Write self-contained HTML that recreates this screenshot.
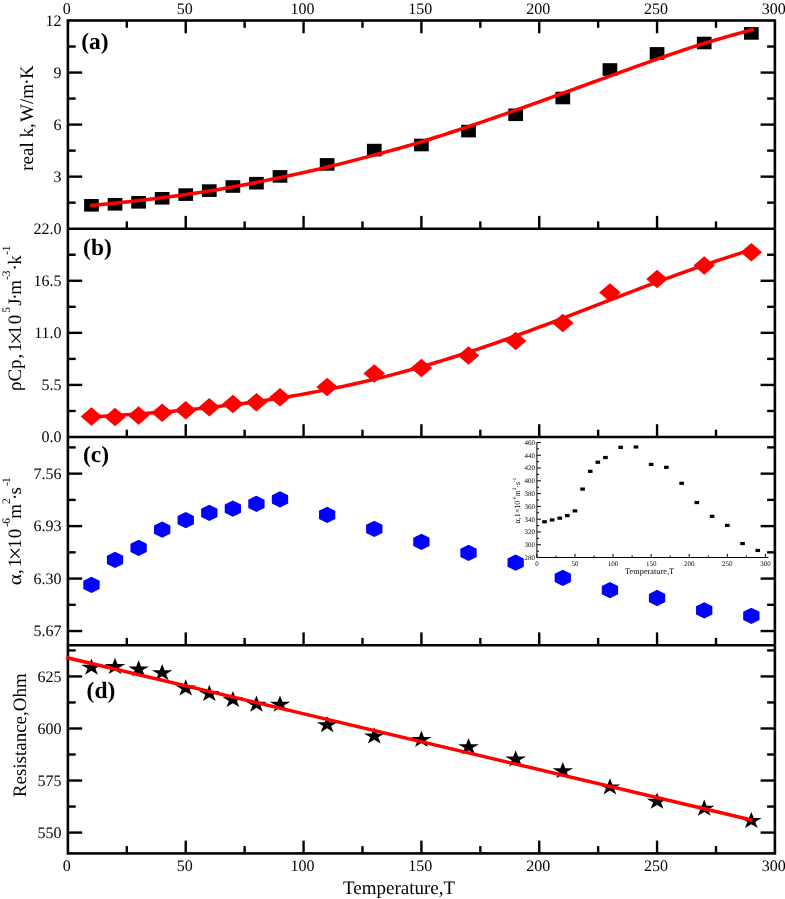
<!DOCTYPE html>
<html lang="en">
<head>
<meta charset="utf-8">
<title>Temperature dependence of k, rho*Cp, alpha and resistance</title>
<style>
html,body{margin:0;padding:0;background:#fff;}
body{width:785px;height:899px;overflow:hidden;}
svg{display:block;opacity:0.999;will-change:transform;}
text{text-rendering:geometricPrecision;}
</style>
</head>
<body>
<svg width="785" height="899" viewBox="0 0 785 899">
<rect x="0" y="0" width="785" height="899" fill="#fff"/>
<g stroke="#000" stroke-width="2.6" fill="none" stroke-linecap="butt">
<rect x="67.9" y="20.5" width="707" height="832.9"/>
<line x1="67.9" y1="228.7" x2="774.9" y2="228.7"/>
<line x1="67.9" y1="437" x2="774.9" y2="437"/>
<line x1="67.9" y1="645.2" x2="774.9" y2="645.2"/>
</g>
<g stroke="#000" stroke-width="2.4" fill="none">
<line x1="126.82" y1="20.5" x2="126.82" y2="27.8"/>
<line x1="126.82" y1="228.7" x2="126.82" y2="221.4"/>
<line x1="126.82" y1="437" x2="126.82" y2="429.7"/>
<line x1="126.82" y1="645.2" x2="126.82" y2="637.9"/>
<line x1="126.82" y1="853.4" x2="126.82" y2="846.1"/>
<line x1="185.73" y1="20.5" x2="185.73" y2="33.3"/>
<line x1="185.73" y1="228.7" x2="185.73" y2="215.9"/>
<line x1="185.73" y1="437" x2="185.73" y2="424.2"/>
<line x1="185.73" y1="645.2" x2="185.73" y2="632.4"/>
<line x1="185.73" y1="853.4" x2="185.73" y2="840.6"/>
<line x1="244.65" y1="20.5" x2="244.65" y2="27.8"/>
<line x1="244.65" y1="228.7" x2="244.65" y2="221.4"/>
<line x1="244.65" y1="437" x2="244.65" y2="429.7"/>
<line x1="244.65" y1="645.2" x2="244.65" y2="637.9"/>
<line x1="244.65" y1="853.4" x2="244.65" y2="846.1"/>
<line x1="303.57" y1="20.5" x2="303.57" y2="33.3"/>
<line x1="303.57" y1="228.7" x2="303.57" y2="215.9"/>
<line x1="303.57" y1="437" x2="303.57" y2="424.2"/>
<line x1="303.57" y1="645.2" x2="303.57" y2="632.4"/>
<line x1="303.57" y1="853.4" x2="303.57" y2="840.6"/>
<line x1="362.48" y1="20.5" x2="362.48" y2="27.8"/>
<line x1="362.48" y1="228.7" x2="362.48" y2="221.4"/>
<line x1="362.48" y1="437" x2="362.48" y2="429.7"/>
<line x1="362.48" y1="645.2" x2="362.48" y2="637.9"/>
<line x1="362.48" y1="853.4" x2="362.48" y2="846.1"/>
<line x1="421.4" y1="20.5" x2="421.4" y2="33.3"/>
<line x1="421.4" y1="228.7" x2="421.4" y2="215.9"/>
<line x1="421.4" y1="437" x2="421.4" y2="424.2"/>
<line x1="421.4" y1="645.2" x2="421.4" y2="632.4"/>
<line x1="421.4" y1="853.4" x2="421.4" y2="840.6"/>
<line x1="480.32" y1="20.5" x2="480.32" y2="27.8"/>
<line x1="480.32" y1="228.7" x2="480.32" y2="221.4"/>
<line x1="480.32" y1="437" x2="480.32" y2="429.7"/>
<line x1="480.32" y1="645.2" x2="480.32" y2="637.9"/>
<line x1="480.32" y1="853.4" x2="480.32" y2="846.1"/>
<line x1="539.23" y1="20.5" x2="539.23" y2="33.3"/>
<line x1="539.23" y1="228.7" x2="539.23" y2="215.9"/>
<line x1="539.23" y1="437" x2="539.23" y2="424.2"/>
<line x1="539.23" y1="645.2" x2="539.23" y2="632.4"/>
<line x1="539.23" y1="853.4" x2="539.23" y2="840.6"/>
<line x1="598.15" y1="20.5" x2="598.15" y2="27.8"/>
<line x1="598.15" y1="228.7" x2="598.15" y2="221.4"/>
<line x1="598.15" y1="437" x2="598.15" y2="429.7"/>
<line x1="598.15" y1="645.2" x2="598.15" y2="637.9"/>
<line x1="598.15" y1="853.4" x2="598.15" y2="846.1"/>
<line x1="657.07" y1="20.5" x2="657.07" y2="33.3"/>
<line x1="657.07" y1="228.7" x2="657.07" y2="215.9"/>
<line x1="657.07" y1="437" x2="657.07" y2="424.2"/>
<line x1="657.07" y1="645.2" x2="657.07" y2="632.4"/>
<line x1="657.07" y1="853.4" x2="657.07" y2="840.6"/>
<line x1="715.98" y1="20.5" x2="715.98" y2="27.8"/>
<line x1="715.98" y1="228.7" x2="715.98" y2="221.4"/>
<line x1="715.98" y1="437" x2="715.98" y2="429.7"/>
<line x1="715.98" y1="645.2" x2="715.98" y2="637.9"/>
<line x1="715.98" y1="853.4" x2="715.98" y2="846.1"/>
<line x1="67.9" y1="46.53" x2="75.7" y2="46.53"/>
<line x1="774.9" y1="46.53" x2="767.1" y2="46.53"/>
<line x1="67.9" y1="72.55" x2="82.2" y2="72.55"/>
<line x1="774.9" y1="72.55" x2="760.6" y2="72.55"/>
<line x1="67.9" y1="98.57" x2="75.7" y2="98.57"/>
<line x1="774.9" y1="98.57" x2="767.1" y2="98.57"/>
<line x1="67.9" y1="124.6" x2="82.2" y2="124.6"/>
<line x1="774.9" y1="124.6" x2="760.6" y2="124.6"/>
<line x1="67.9" y1="150.62" x2="75.7" y2="150.62"/>
<line x1="774.9" y1="150.62" x2="767.1" y2="150.62"/>
<line x1="67.9" y1="176.65" x2="82.2" y2="176.65"/>
<line x1="774.9" y1="176.65" x2="760.6" y2="176.65"/>
<line x1="67.9" y1="202.67" x2="75.7" y2="202.67"/>
<line x1="774.9" y1="202.67" x2="767.1" y2="202.67"/>
<line x1="67.9" y1="254.74" x2="75.7" y2="254.74"/>
<line x1="774.9" y1="254.74" x2="767.1" y2="254.74"/>
<line x1="67.9" y1="280.77" x2="82.2" y2="280.77"/>
<line x1="774.9" y1="280.77" x2="760.6" y2="280.77"/>
<line x1="67.9" y1="306.81" x2="75.7" y2="306.81"/>
<line x1="774.9" y1="306.81" x2="767.1" y2="306.81"/>
<line x1="67.9" y1="332.85" x2="82.2" y2="332.85"/>
<line x1="774.9" y1="332.85" x2="760.6" y2="332.85"/>
<line x1="67.9" y1="358.89" x2="75.7" y2="358.89"/>
<line x1="774.9" y1="358.89" x2="767.1" y2="358.89"/>
<line x1="67.9" y1="384.93" x2="82.2" y2="384.93"/>
<line x1="774.9" y1="384.93" x2="760.6" y2="384.93"/>
<line x1="67.9" y1="410.96" x2="75.7" y2="410.96"/>
<line x1="774.9" y1="410.96" x2="767.1" y2="410.96"/>
<line x1="67.9" y1="447.41" x2="75.7" y2="447.41"/>
<line x1="774.9" y1="447.41" x2="767.1" y2="447.41"/>
<line x1="67.9" y1="473.64" x2="82.2" y2="473.64"/>
<line x1="774.9" y1="473.64" x2="760.6" y2="473.64"/>
<line x1="67.9" y1="499.88" x2="75.7" y2="499.88"/>
<line x1="774.9" y1="499.88" x2="767.1" y2="499.88"/>
<line x1="67.9" y1="526.11" x2="82.2" y2="526.11"/>
<line x1="774.9" y1="526.11" x2="760.6" y2="526.11"/>
<line x1="67.9" y1="552.34" x2="75.7" y2="552.34"/>
<line x1="774.9" y1="552.34" x2="767.1" y2="552.34"/>
<line x1="67.9" y1="578.58" x2="82.2" y2="578.58"/>
<line x1="774.9" y1="578.58" x2="760.6" y2="578.58"/>
<line x1="67.9" y1="604.81" x2="75.7" y2="604.81"/>
<line x1="774.9" y1="604.81" x2="767.1" y2="604.81"/>
<line x1="67.9" y1="631.04" x2="82.2" y2="631.04"/>
<line x1="774.9" y1="631.04" x2="760.6" y2="631.04"/>
<line x1="67.9" y1="650.41" x2="75.7" y2="650.41"/>
<line x1="774.9" y1="650.41" x2="767.1" y2="650.41"/>
<line x1="67.9" y1="676.43" x2="82.2" y2="676.43"/>
<line x1="774.9" y1="676.43" x2="760.6" y2="676.43"/>
<line x1="67.9" y1="702.46" x2="75.7" y2="702.46"/>
<line x1="774.9" y1="702.46" x2="767.1" y2="702.46"/>
<line x1="67.9" y1="728.48" x2="82.2" y2="728.48"/>
<line x1="774.9" y1="728.48" x2="760.6" y2="728.48"/>
<line x1="67.9" y1="754.5" x2="75.7" y2="754.5"/>
<line x1="774.9" y1="754.5" x2="767.1" y2="754.5"/>
<line x1="67.9" y1="780.53" x2="82.2" y2="780.53"/>
<line x1="774.9" y1="780.53" x2="760.6" y2="780.53"/>
<line x1="67.9" y1="806.55" x2="75.7" y2="806.55"/>
<line x1="774.9" y1="806.55" x2="767.1" y2="806.55"/>
<line x1="67.9" y1="832.58" x2="82.2" y2="832.58"/>
<line x1="774.9" y1="832.58" x2="760.6" y2="832.58"/>
</g>
<g font-family='"Liberation Serif","Times New Roman",serif' font-size="16.0" fill="#000">
<text x="61.6" y="25.8" text-anchor="end">12</text>
<text x="61.6" y="77.85" text-anchor="end">9</text>
<text x="61.6" y="129.9" text-anchor="end">6</text>
<text x="61.6" y="181.95" text-anchor="end">3</text>
<text x="61.6" y="234" text-anchor="end">22.0</text>
<text x="61.6" y="286.07" text-anchor="end">16.5</text>
<text x="61.6" y="338.15" text-anchor="end">11.0</text>
<text x="61.6" y="390.23" text-anchor="end">5.5</text>
<text x="61.6" y="442.3" text-anchor="end">0.0</text>
<text x="61.6" y="478.94" text-anchor="end">7.56</text>
<text x="61.6" y="531.41" text-anchor="end">6.93</text>
<text x="61.6" y="583.88" text-anchor="end">6.30</text>
<text x="61.6" y="636.34" text-anchor="end">5.67</text>
<text x="61.6" y="681.73" text-anchor="end">625</text>
<text x="61.6" y="733.78" text-anchor="end">600</text>
<text x="61.6" y="785.83" text-anchor="end">575</text>
<text x="61.6" y="837.88" text-anchor="end">550</text>
<text x="66.8" y="13.5" text-anchor="middle">0</text>
<text x="66.8" y="871.4" text-anchor="middle">0</text>
<text x="184.63" y="13.5" text-anchor="middle">50</text>
<text x="184.63" y="871.4" text-anchor="middle">50</text>
<text x="302.47" y="13.5" text-anchor="middle">100</text>
<text x="302.47" y="871.4" text-anchor="middle">100</text>
<text x="420.3" y="13.5" text-anchor="middle">150</text>
<text x="420.3" y="871.4" text-anchor="middle">150</text>
<text x="538.13" y="13.5" text-anchor="middle">200</text>
<text x="538.13" y="871.4" text-anchor="middle">200</text>
<text x="655.97" y="13.5" text-anchor="middle">250</text>
<text x="655.97" y="871.4" text-anchor="middle">250</text>
<text x="773.8" y="13.5" text-anchor="middle">300</text>
<text x="773.8" y="871.4" text-anchor="middle">300</text>
</g>
<g font-family='"Liberation Serif","Times New Roman",serif' font-size="19" fill="#000">
<text x="399" y="893.6" text-anchor="middle">Temperature,T</text>
<text transform="translate(33 118) rotate(-90)" text-anchor="middle">real k,<tspan dx="1.3">W/m</tspan><tspan dx="-0.7">·</tspan><tspan dx="-0.7">K</tspan></text>
<text transform="translate(21 391.1) rotate(-90)">ρCp<tspan dx="0.9">,</tspan><tspan dx="1.8">1</tspan><tspan font-size="24" dy="2.5" dx="-2.6">×</tspan><tspan dy="-2.5" dx="-3.3">1</tspan><tspan dx="1.0">0</tspan><tspan dy="-11.3" dx="2.2" font-size="11.5">5</tspan><tspan dy="11.3" dx="1.2">J</tspan><tspan dx="-1.4">·</tspan><tspan dx="-1.4">m</tspan><tspan dy="-11.3" font-size="11.5">-3</tspan><tspan dy="11.3">·</tspan><tspan dx="-0.8">k</tspan><tspan dy="-11.3" dx="0.3" font-size="11.5">-1</tspan></text>
<text transform="translate(20.7 585.2) rotate(-90)"><tspan textLength="11.2" lengthAdjust="spacingAndGlyphs">α</tspan><tspan dx="0.1">,</tspan><tspan dx="1.8">1</tspan><tspan font-size="24" dy="2.5" dx="-2.5">×</tspan><tspan dy="-2.5" dx="-1.7">1</tspan><tspan dx="0.8">0</tspan><tspan dy="-10.7" dx="1.6" font-size="11.5">-</tspan><tspan dx="-0.6" font-size="11.5">6</tspan><tspan dy="10.7" dx="-0.6">m</tspan><tspan dy="-10.7" font-size="11.5">2</tspan><tspan dy="10.7" dx="-1.8">·</tspan><tspan dx="-0.8">s</tspan><tspan dy="-10.7" dx="1.0" font-size="11.5">-</tspan><tspan dx="-0.8" font-size="11.5">1</tspan></text>
<text transform="translate(26.2 735.2) rotate(-90)" text-anchor="middle">Resistance,Ohm</text>
</g>
<g font-family='"Liberation Serif","Times New Roman",serif' font-size="23.5" font-weight="bold" fill="#000">
<text x="81.3" y="49.1">(a)</text>
<text x="83.1" y="254.5">(b)</text>
<text x="82.9" y="461.6">(c)</text>
<text x="86.6" y="697.7">(d)</text>
</g>
<g stroke="#000" stroke-width="1" fill="none">
<polyline points="536.9,442.5 536.9,557.5 768.4,557.5"/>
<line x1="536.9" y1="557.5" x2="540.9" y2="557.5"/>
<line x1="536.9" y1="551.11" x2="539.1" y2="551.11"/>
<line x1="536.9" y1="544.72" x2="540.9" y2="544.72"/>
<line x1="536.9" y1="538.33" x2="539.1" y2="538.33"/>
<line x1="536.9" y1="531.94" x2="540.9" y2="531.94"/>
<line x1="536.9" y1="525.56" x2="539.1" y2="525.56"/>
<line x1="536.9" y1="519.17" x2="540.9" y2="519.17"/>
<line x1="536.9" y1="512.78" x2="539.1" y2="512.78"/>
<line x1="536.9" y1="506.39" x2="540.9" y2="506.39"/>
<line x1="536.9" y1="500" x2="539.1" y2="500"/>
<line x1="536.9" y1="493.61" x2="540.9" y2="493.61"/>
<line x1="536.9" y1="487.22" x2="539.1" y2="487.22"/>
<line x1="536.9" y1="480.83" x2="540.9" y2="480.83"/>
<line x1="536.9" y1="474.44" x2="539.1" y2="474.44"/>
<line x1="536.9" y1="468.06" x2="540.9" y2="468.06"/>
<line x1="536.9" y1="461.67" x2="539.1" y2="461.67"/>
<line x1="536.9" y1="455.28" x2="540.9" y2="455.28"/>
<line x1="536.9" y1="448.89" x2="539.1" y2="448.89"/>
<line x1="536.9" y1="442.5" x2="540.9" y2="442.5"/>
<line x1="536.9" y1="557.5" x2="536.9" y2="553.9"/>
<line x1="555.94" y1="557.5" x2="555.94" y2="555.5"/>
<line x1="574.98" y1="557.5" x2="574.98" y2="553.9"/>
<line x1="594.02" y1="557.5" x2="594.02" y2="555.5"/>
<line x1="613.07" y1="557.5" x2="613.07" y2="553.9"/>
<line x1="632.11" y1="557.5" x2="632.11" y2="555.5"/>
<line x1="651.15" y1="557.5" x2="651.15" y2="553.9"/>
<line x1="670.19" y1="557.5" x2="670.19" y2="555.5"/>
<line x1="689.23" y1="557.5" x2="689.23" y2="553.9"/>
<line x1="708.27" y1="557.5" x2="708.27" y2="555.5"/>
<line x1="727.32" y1="557.5" x2="727.32" y2="553.9"/>
<line x1="746.36" y1="557.5" x2="746.36" y2="555.5"/>
<line x1="765.4" y1="557.5" x2="765.4" y2="553.9"/>
</g>
<g font-family='"Liberation Serif","Times New Roman",serif' font-size="7" fill="#000">
<text x="535" y="559.9" text-anchor="end">280</text>
<text x="535" y="547.12" text-anchor="end">300</text>
<text x="535" y="534.34" text-anchor="end">320</text>
<text x="535" y="521.57" text-anchor="end">340</text>
<text x="535" y="508.79" text-anchor="end">360</text>
<text x="535" y="496.01" text-anchor="end">380</text>
<text x="535" y="483.23" text-anchor="end">400</text>
<text x="535" y="470.46" text-anchor="end">420</text>
<text x="535" y="457.68" text-anchor="end">440</text>
<text x="535" y="444.9" text-anchor="end">460</text>
<text x="536.9" y="565.6" text-anchor="middle">0</text>
<text x="574.98" y="565.6" text-anchor="middle">50</text>
<text x="613.07" y="565.6" text-anchor="middle">100</text>
<text x="651.15" y="565.6" text-anchor="middle">150</text>
<text x="689.23" y="565.6" text-anchor="middle">200</text>
<text x="727.32" y="565.6" text-anchor="middle">250</text>
<text x="765.4" y="565.6" text-anchor="middle">300</text>
<text x="649.6" y="573.6" text-anchor="middle" font-size="8.3">Temperature,T</text>
<text transform="translate(519.8 500.6) rotate(-90)" text-anchor="middle" font-size="8">α,1×10<tspan dy="-4" font-size="5">-6</tspan><tspan dy="4">m</tspan><tspan dy="-4" font-size="5">2</tspan><tspan dy="4">·s</tspan><tspan dy="-4" font-size="5">-1</tspan></text>
</g>
<g fill="#000">
<rect x="542.22" y="520.18" width="4.6" height="3.2"/>
<rect x="549.83" y="518.37" width="4.6" height="3.2"/>
<rect x="557.45" y="516.55" width="4.6" height="3.2"/>
<rect x="565.07" y="514.01" width="4.6" height="3.2"/>
<rect x="572.68" y="509.29" width="4.6" height="3.2"/>
<rect x="580.3" y="487.5" width="4.6" height="3.2"/>
<rect x="587.92" y="469.71" width="4.6" height="3.2"/>
<rect x="595.53" y="460.63" width="4.6" height="3.2"/>
<rect x="603.15" y="455.91" width="4.6" height="3.2"/>
<rect x="618.38" y="445.75" width="4.6" height="3.2"/>
<rect x="633.62" y="445.38" width="4.6" height="3.2"/>
<rect x="648.85" y="462.81" width="4.6" height="3.2"/>
<rect x="664.08" y="465.72" width="4.6" height="3.2"/>
<rect x="679.32" y="481.69" width="4.6" height="3.2"/>
<rect x="694.55" y="500.94" width="4.6" height="3.2"/>
<rect x="709.78" y="514.74" width="4.6" height="3.2"/>
<rect x="725.02" y="523.81" width="4.6" height="3.2"/>
<rect x="740.25" y="541.97" width="4.6" height="3.2"/>
<rect x="755.48" y="548.87" width="4.6" height="3.2"/>
</g>
<g fill="#000">
<rect x="84.12" y="199" width="14.7" height="12.6"/>
<rect x="107.68" y="198" width="14.7" height="12.6"/>
<rect x="131.25" y="196" width="14.7" height="12.6"/>
<rect x="154.82" y="192" width="14.7" height="12.6"/>
<rect x="178.38" y="188.3" width="14.7" height="12.6"/>
<rect x="201.95" y="184.3" width="14.7" height="12.6"/>
<rect x="225.52" y="180.2" width="14.7" height="12.6"/>
<rect x="249.08" y="176.9" width="14.7" height="12.6"/>
<rect x="272.65" y="170.1" width="14.7" height="12.6"/>
<rect x="319.78" y="158.1" width="14.7" height="12.6"/>
<rect x="366.92" y="143.8" width="14.7" height="12.6"/>
<rect x="414.05" y="138.7" width="14.7" height="12.6"/>
<rect x="461.18" y="124.8" width="14.7" height="12.6"/>
<rect x="508.32" y="108.5" width="14.7" height="12.6"/>
<rect x="555.45" y="91.7" width="14.7" height="12.6"/>
<rect x="602.58" y="63.2" width="14.7" height="12.6"/>
<rect x="649.72" y="47.1" width="14.7" height="12.6"/>
<rect x="696.85" y="36.7" width="14.7" height="12.6"/>
<rect x="743.98" y="27.1" width="14.7" height="12.6"/>
</g>
<g fill="#f00">
<polygon points="91.47,407.35 102.27,416.6 91.47,425.85 80.67,416.6"/>
<polygon points="115.03,407.65 125.83,416.9 115.03,426.15 104.23,416.9"/>
<polygon points="138.6,406.15 149.4,415.4 138.6,424.65 127.8,415.4"/>
<polygon points="162.17,403.55 172.97,412.8 162.17,422.05 151.37,412.8"/>
<polygon points="185.73,401.05 196.53,410.3 185.73,419.55 174.93,410.3"/>
<polygon points="209.3,397.95 220.1,407.2 209.3,416.45 198.5,407.2"/>
<polygon points="232.87,394.65 243.67,403.9 232.87,413.15 222.07,403.9"/>
<polygon points="256.43,393.05 267.23,402.3 256.43,411.55 245.63,402.3"/>
<polygon points="280,388.05 290.8,397.3 280,406.55 269.2,397.3"/>
<polygon points="327.13,377.65 337.93,386.9 327.13,396.15 316.33,386.9"/>
<polygon points="374.27,364.15 385.07,373.4 374.27,382.65 363.47,373.4"/>
<polygon points="421.4,358.75 432.2,368 421.4,377.25 410.6,368"/>
<polygon points="468.53,346.35 479.33,355.6 468.53,364.85 457.73,355.6"/>
<polygon points="515.67,331.65 526.47,340.9 515.67,350.15 504.87,340.9"/>
<polygon points="562.8,313.85 573.6,323.1 562.8,332.35 552,323.1"/>
<polygon points="609.93,283.15 620.73,292.4 609.93,301.65 599.13,292.4"/>
<polygon points="657.07,269.65 667.87,278.9 657.07,288.15 646.27,278.9"/>
<polygon points="704.2,256.15 715,265.4 704.2,274.65 693.4,265.4"/>
<polygon points="751.33,242.95 762.13,252.2 751.33,261.45 740.53,252.2"/>
</g>
<g fill="#00f">
<polygon points="91.47,576.65 99.62,580.72 99.62,588.88 91.47,592.95 83.32,588.88 83.32,580.72"/>
<polygon points="115.03,551.75 123.18,555.82 123.18,563.98 115.03,568.05 106.88,563.98 106.88,555.82"/>
<polygon points="138.6,539.65 146.75,543.72 146.75,551.88 138.6,555.95 130.45,551.88 130.45,543.72"/>
<polygon points="162.17,521.45 170.32,525.52 170.32,533.68 162.17,537.75 154.02,533.68 154.02,525.52"/>
<polygon points="185.73,511.95 193.88,516.02 193.88,524.18 185.73,528.25 177.58,524.18 177.58,516.02"/>
<polygon points="209.3,504.65 217.45,508.72 217.45,516.88 209.3,520.95 201.15,516.88 201.15,508.72"/>
<polygon points="232.87,500.45 241.02,504.53 241.02,512.68 232.87,516.75 224.72,512.68 224.72,504.53"/>
<polygon points="256.43,495.65 264.58,499.73 264.58,507.88 256.43,511.95 248.28,507.88 248.28,499.73"/>
<polygon points="280,491.15 288.15,495.23 288.15,503.38 280,507.45 271.85,503.38 271.85,495.23"/>
<polygon points="327.13,506.75 335.28,510.82 335.28,518.98 327.13,523.05 318.98,518.98 318.98,510.82"/>
<polygon points="374.27,520.75 382.42,524.82 382.42,532.98 374.27,537.05 366.12,532.98 366.12,524.82"/>
<polygon points="421.4,533.65 429.55,537.72 429.55,545.88 421.4,549.95 413.25,545.88 413.25,537.72"/>
<polygon points="468.53,544.65 476.68,548.72 476.68,556.88 468.53,560.95 460.38,556.88 460.38,548.72"/>
<polygon points="515.67,554.45 523.82,558.52 523.82,566.68 515.67,570.75 507.52,566.68 507.52,558.52"/>
<polygon points="562.8,569.75 570.95,573.82 570.95,581.98 562.8,586.05 554.65,581.98 554.65,573.82"/>
<polygon points="609.93,581.95 618.08,586.02 618.08,594.18 609.93,598.25 601.78,594.18 601.78,586.02"/>
<polygon points="657.07,589.85 665.22,593.92 665.22,602.08 657.07,606.15 648.92,602.08 648.92,593.92"/>
<polygon points="704.2,602.15 712.35,606.22 712.35,614.38 704.2,618.45 696.05,614.38 696.05,606.22"/>
<polygon points="751.33,607.65 759.48,611.72 759.48,619.88 751.33,623.95 743.18,619.88 743.18,611.72"/>
</g>
<g fill="#000">
<polygon points="91.47,658.5 93.91,664.68 101.82,664.68 95.42,668.51 97.86,674.69 91.47,670.87 85.07,674.69 87.51,668.51 81.12,664.68 89.02,664.68"/>
<polygon points="115.03,657.8 117.48,663.98 125.38,663.98 118.99,667.81 121.43,673.99 115.03,670.17 108.64,673.99 111.08,667.81 104.68,663.98 112.59,663.98"/>
<polygon points="138.6,660.3 141.04,666.48 148.95,666.48 142.55,670.31 145,676.49 138.6,672.67 132.2,676.49 134.65,670.31 128.25,666.48 136.16,666.48"/>
<polygon points="162.17,664 164.61,670.18 172.52,670.18 166.12,674.01 168.56,680.19 162.17,676.37 155.77,680.19 158.21,674.01 151.82,670.18 159.72,670.18"/>
<polygon points="185.73,679.3 188.18,685.48 196.08,685.48 189.69,689.31 192.13,695.49 185.73,691.67 179.34,695.49 181.78,689.31 175.38,685.48 183.29,685.48"/>
<polygon points="209.3,684.8 211.74,690.98 219.65,690.98 213.25,694.81 215.7,700.99 209.3,697.17 202.9,700.99 205.35,694.81 198.95,690.98 206.86,690.98"/>
<polygon points="232.87,690.9 235.31,697.08 243.22,697.08 236.82,700.91 239.26,707.09 232.87,703.27 226.47,707.09 228.91,700.91 222.52,697.08 230.42,697.08"/>
<polygon points="256.43,695.5 258.88,701.68 266.78,701.68 260.39,705.51 262.83,711.69 256.43,707.87 250.04,711.69 252.48,705.51 246.08,701.68 253.99,701.68"/>
<polygon points="280,695.5 282.44,701.68 290.35,701.68 283.95,705.51 286.4,711.69 280,707.87 273.6,711.69 276.05,705.51 269.65,701.68 277.56,701.68"/>
<polygon points="327.13,716 329.58,722.18 337.48,722.18 331.09,726.01 333.53,732.19 327.13,728.37 320.74,732.19 323.18,726.01 316.78,722.18 324.69,722.18"/>
<polygon points="374.27,727.3 376.71,733.48 384.62,733.48 378.22,737.31 380.66,743.49 374.27,739.67 367.87,743.49 370.31,737.31 363.92,733.48 371.82,733.48"/>
<polygon points="421.4,730.7 423.84,736.88 431.75,736.88 425.35,740.71 427.8,746.89 421.4,743.07 415,746.89 417.45,740.71 411.05,736.88 418.96,736.88"/>
<polygon points="468.53,738 470.98,744.18 478.88,744.18 472.49,748.01 474.93,754.19 468.53,750.37 462.14,754.19 464.58,748.01 458.18,744.18 466.09,744.18"/>
<polygon points="515.67,750.2 518.11,756.38 526.02,756.38 519.62,760.21 522.06,766.39 515.67,762.57 509.27,766.39 511.71,760.21 505.32,756.38 513.22,756.38"/>
<polygon points="562.8,762 565.24,768.18 573.15,768.18 566.75,772.01 569.2,778.19 562.8,774.37 556.4,778.19 558.85,772.01 552.45,768.18 560.36,768.18"/>
<polygon points="609.93,778.2 612.38,784.38 620.28,784.38 613.89,788.21 616.33,794.39 609.93,790.57 603.54,794.39 605.98,788.21 599.58,784.38 607.49,784.38"/>
<polygon points="657.07,792.6 659.51,798.78 667.42,798.78 661.02,802.61 663.46,808.79 657.07,804.97 650.67,808.79 653.11,802.61 646.72,798.78 654.62,798.78"/>
<polygon points="704.2,799.6 706.64,805.78 714.55,805.78 708.15,809.61 710.6,815.79 704.2,811.97 697.8,815.79 700.25,809.61 693.85,805.78 701.76,805.78"/>
<polygon points="751.33,811.9 753.78,818.08 761.68,818.08 755.29,821.91 757.73,828.09 751.33,824.27 744.94,828.09 747.38,821.91 740.98,818.08 748.89,818.08"/>
</g>
<polyline points="91.47,205.42 95.35,205.06 99.24,204.69 103.13,204.31 107.02,203.93 110.9,203.54 114.79,203.14 118.68,202.73 122.56,202.32 126.45,201.9 130.34,201.47 134.22,201.04 138.11,200.6 142,200.15 145.89,199.69 149.77,199.22 153.66,198.75 157.55,198.27 161.43,197.78 165.32,197.28 169.21,196.77 173.1,196.25 176.98,195.73 180.87,195.19 184.76,194.65 188.64,194.1 192.53,193.54 196.42,192.97 200.31,192.39 204.19,191.8 208.08,191.2 211.97,190.56 215.85,189.9 219.74,189.22 223.63,188.54 227.52,187.85 231.4,187.14 235.29,186.43 239.18,185.7 243.06,184.97 246.95,184.22 250.84,183.47 254.73,182.7 258.61,181.92 262.5,181.14 266.39,180.34 270.27,179.55 274.16,178.78 278.05,177.99 281.94,177.19 285.82,176.39 289.71,175.57 293.6,174.74 297.48,173.9 301.37,173.04 305.26,172.18 309.15,171.3 313.03,170.42 316.92,169.52 320.81,168.61 324.69,167.69 328.58,166.75 332.47,165.81 336.35,164.85 340.24,163.88 344.13,162.91 348.02,161.91 351.9,160.91 355.79,159.9 359.68,158.87 363.56,157.85 367.45,156.85 371.34,155.84 375.23,154.81 379.11,153.78 383,152.73 386.89,151.68 390.77,150.61 394.66,149.53 398.55,148.44 402.44,147.34 406.32,146.23 410.21,145.11 414.1,143.98 417.98,142.84 421.87,141.68 425.76,140.47 429.65,139.26 433.53,138.03 437.42,136.79 441.31,135.55 445.19,134.29 449.08,133.03 452.97,131.76 456.86,130.48 460.74,129.19 464.63,127.89 468.52,126.59 472.4,125.28 476.29,123.96 480.18,122.63 484.07,121.3 487.95,119.96 491.84,118.61 495.73,117.26 499.61,115.9 503.5,114.53 507.39,113.16 511.27,111.79 515.16,110.41 519.05,109.02 522.94,107.64 526.82,106.24 530.71,104.85 534.6,103.45 538.48,102.04 542.37,100.64 546.26,99.23 550.15,97.82 554.03,96.41 557.92,95 561.81,93.58 565.69,92.17 569.58,90.75 573.47,89.33 577.36,87.92 581.24,86.5 585.13,85.09 589.02,83.67 592.9,82.26 596.79,80.85 600.68,79.44 604.57,78.03 608.45,76.62 612.34,75.21 616.23,73.78 620.11,72.36 624,70.95 627.89,69.53 631.78,68.13 635.66,66.72 639.55,65.33 643.44,63.93 647.32,62.54 651.21,61.16 655.1,59.79 658.99,58.43 662.87,57.09 666.76,55.76 670.65,54.43 674.53,53.11 678.42,51.8 682.31,50.5 686.2,49.21 690.08,47.92 693.97,46.64 697.86,45.37 701.74,44.11 705.63,42.89 709.52,41.74 713.4,40.6 717.29,39.46 721.18,38.34 725.07,37.23 728.95,36.12 732.84,35.03 736.73,33.94 740.61,32.87 744.5,31.81 748.39,30.75 752.28,29.69" fill="none" stroke="#f00" stroke-width="3.5" stroke-linecap="round" stroke-linejoin="round"/>
<polyline points="91.47,417.04 95.35,416.82 99.24,416.59 103.13,416.36 107.02,416.12 110.9,415.87 114.79,415.63 118.68,415.37 122.56,415.11 126.45,414.84 130.34,414.57 134.22,414.29 138.11,414.01 142,413.72 145.89,413.42 149.77,413.11 153.66,412.8 157.55,412.48 161.43,412.16 165.32,411.82 169.21,411.48 173.1,411.14 176.98,410.78 180.87,410.42 184.76,410.05 188.64,409.67 192.53,409.28 196.42,408.88 200.31,408.48 204.19,408.07 208.08,407.64 211.97,407.21 215.85,406.77 219.74,406.32 223.63,405.86 227.52,405.4 231.4,404.92 235.29,404.43 239.18,403.93 243.06,403.42 246.95,402.9 250.84,402.37 254.73,401.83 258.61,401.28 262.5,400.72 266.39,400.15 270.27,399.56 274.16,398.97 278.05,398.36 281.94,397.74 285.82,397.11 289.71,396.47 293.6,395.81 297.48,395.14 301.37,394.46 305.26,393.77 309.15,393.06 313.03,392.34 316.92,391.61 320.81,390.87 324.69,390.11 328.58,389.34 332.47,388.55 336.35,387.76 340.24,386.94 344.13,386.12 348.02,385.28 351.9,384.43 355.79,383.56 359.68,382.68 363.56,381.78 367.45,380.87 371.34,379.95 375.23,379.01 379.11,378.06 383,377.09 386.89,376.11 390.77,375.11 394.66,374.1 398.55,373.07 402.44,372.03 406.32,370.98 410.21,369.91 414.1,368.83 417.98,367.73 421.87,366.62 425.76,365.5 429.65,364.36 433.53,363.2 437.42,362.04 441.31,360.86 445.19,359.66 449.08,358.46 452.97,357.23 456.86,356 460.74,354.75 464.63,353.49 468.52,352.22 472.4,350.94 476.29,349.64 480.18,348.33 484.07,347.01 487.95,345.68 491.84,344.33 495.73,342.98 499.61,341.62 503.5,340.24 507.39,338.86 511.27,337.46 515.16,336.06 519.05,334.65 522.94,333.23 526.82,331.8 530.71,330.36 534.6,328.92 538.48,327.46 542.37,326.01 546.26,324.54 550.15,323.07 554.03,321.59 557.92,320.11 561.81,318.63 565.69,317.14 569.58,315.65 573.47,314.15 577.36,312.65 581.24,311.15 585.13,309.65 589.02,308.14 592.9,306.64 596.79,305.13 600.68,303.63 604.57,302.12 608.45,300.62 612.34,299.12 616.23,297.61 620.11,296.12 624,294.62 627.89,293.13 631.78,291.64 635.66,290.16 639.55,288.68 643.44,287.2 647.32,285.73 651.21,284.27 655.1,282.81 658.99,281.36 662.87,279.92 666.76,278.48 670.65,277.05 674.53,275.63 678.42,274.22 682.31,272.82 686.2,271.43 690.08,270.05 693.97,268.67 697.86,267.31 701.74,265.96 705.63,264.62 709.52,263.29 713.4,261.97 717.29,260.66 721.18,259.37 725.07,258.08 728.95,256.81 732.84,255.56 736.73,254.31 740.61,253.08 744.5,251.86 748.39,250.65 752.28,249.46" fill="none" stroke="#f00" stroke-width="3.5" stroke-linecap="round" stroke-linejoin="round"/>
<polyline points="66.2,657.5 752.6,820.2" fill="none" stroke="#f00" stroke-width="3.5" stroke-linecap="butt" stroke-linejoin="round"/>
</svg>
</body>
</html>
